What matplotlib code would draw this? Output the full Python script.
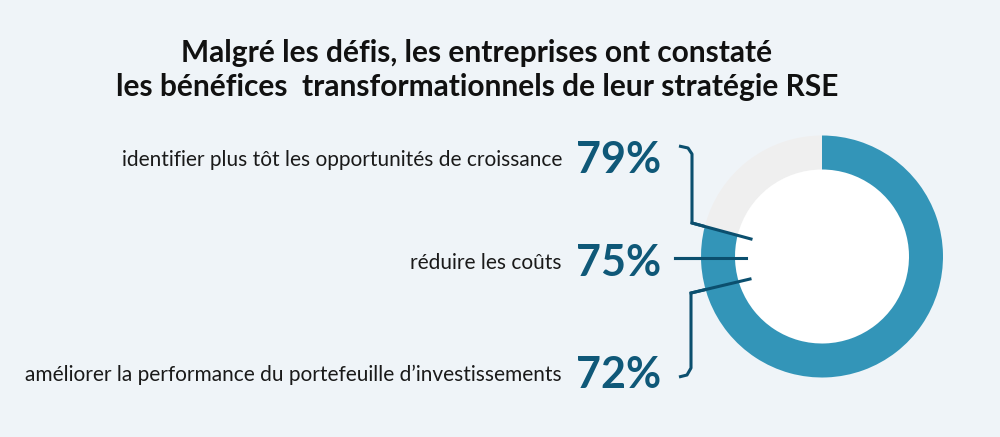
import numpy as np
import matplotlib
matplotlib.use('Agg')
from matplotlib import pyplot as plt
from matplotlib.patches import Circle

# Data
benefits = ['identifier plus tôt les opportunités de croissance',
            'réduire les coûts',
            'améliorer la performance du portefeuille d\u2019investissements']
shares = [79, 75, 72]
donut_value = 79

title = 'Malgré les défis, les entreprises ont constaté\nles bénéfices  transformationnels de leur stratégie RSE'

bg = '#eff4f8'
blue = '#3395b8'
grey = '#efefef'
navy = '#0f5878'
line_col = '#0b4f6e'

fig = plt.figure(figsize=(10, 4.37), dpi=100)
fig.patch.set_facecolor(bg)

# overlay axes in pixel coordinates for the texts and brackets
ov = fig.add_axes([0, 0, 1, 1])
ov.set_xlim(0, 1000)
ov.set_ylim(437, 0)
ov.axis('off')

ov.text(477, 70, title, ha='center', va='center', fontsize=21.5, fontweight='bold',
        family='Lato', color='#111111', linespacing=1.3)

label_y = [160, 263, 375]
for lab, val, y in zip(benefits, shares, label_y):
    ov.text(562, y, lab, ha='right', va='center', fontsize=15, family='Lato', color='#1a1a1a')
    ov.text(576, y, f'{val}%', ha='left', va='center', fontsize=31, fontweight='bold',
            family='Lato', color=navy)

# brackets linking the numbers to the donut
ov.plot([679, 688, 692, 692, 751], [146, 148, 154, 223, 239], color=line_col, lw=2.2,
        solid_joinstyle='round', solid_capstyle='butt')
ov.plot([675, 746], [258, 258], color=line_col, lw=2.2)
ov.plot([750, 691, 691, 687, 679], [279, 293, 368, 375, 377], color=line_col, lw=2.2,
        solid_joinstyle='round', solid_capstyle='butt')

# donut
cx, cy, r = 822, 256.5, 121
ax = fig.add_axes([(cx - r) / 1000, (437 - cy - r) / 437, 2 * r / 1000, 2 * r / 437])
ax.pie([donut_value, 100 - donut_value], colors=[blue, grey], startangle=90,
       counterclock=False, radius=1, wedgeprops=dict(width=34 / 121, linewidth=0))
ax.add_patch(Circle((0, 0), 1 - 34 / 121, color='white', zorder=0))
ax.set_xlim(-1, 1)
ax.set_ylim(-1, 1)
ax.set_aspect('equal')
ax.axis('off')

# redraw bracket tips above the donut
ov2 = fig.add_axes([0, 0, 1, 1])
ov2.set_xlim(0, 1000)
ov2.set_ylim(437, 0)
ov2.axis('off')
ov2.patch.set_alpha(0)
ov2.plot([692, 751], [223, 239], color=line_col, lw=2.2)
ov2.plot([675, 746], [258, 258], color=line_col, lw=2.2)
ov2.plot([750, 691], [279, 293], color=line_col, lw=2.2)

fig.savefig('out.png', dpi=100, facecolor=bg)
